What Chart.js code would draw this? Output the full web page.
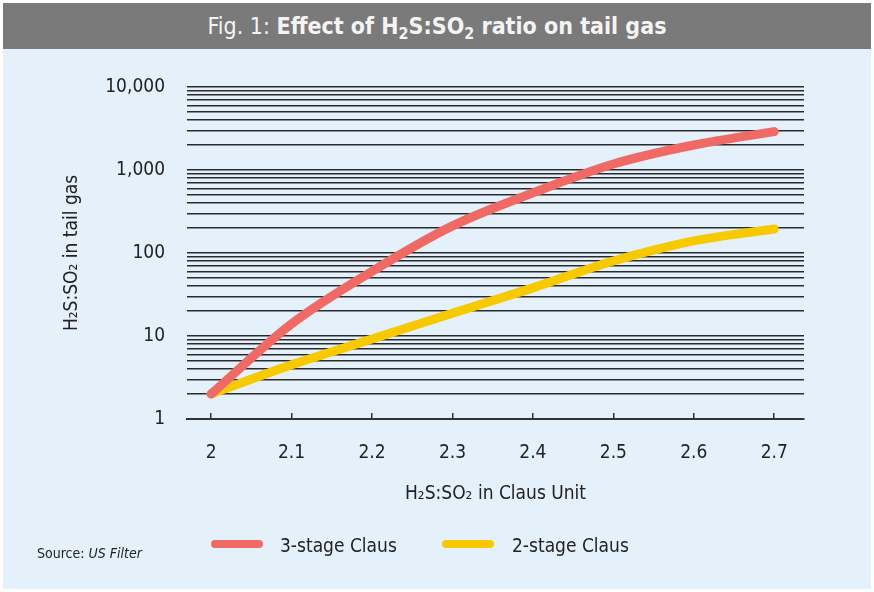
<!DOCTYPE html>
<html>
<head>
<meta charset="utf-8">
<script src="https://cdn.jsdelivr.net/npm/chart.js@4.4.1/dist/chart.umd.min.js"></script>
<style>
  body { margin: 0; background: #fff; font-family: 'DejaVu Sans Condensed', 'Liberation Sans', sans-serif; }
  #wrap { position: relative; width: 874px; height: 592px; }
  #panel { position: absolute; left: 3px; top: 3px; width: 868px; height: 586px; background: #e4f1fb; }
  #titlebar { position: absolute; left: 3px; top: 3px; width: 868px; height: 46px; background: #7a7a7a;
    color: #f4f4f4; font-size: 23px; line-height: 46px; text-align: center; }
  #titlebar b { font-weight: bold; }
  #titlebar sub { font-size: 16px; vertical-align: -5px; line-height: 0; }
  #chartbox { position: absolute; left: 0; top: 0; width: 874px; height: 592px; }
  .leg { position: absolute; top: 534px; font-size: 19px; color: #222; line-height: 22px; }
  .sw { position: absolute; top: 540px; width: 52px; height: 8px; border-radius: 4px; }
  #source { position: absolute; left: 37px; top: 545px; font-size: 14px; color: #222; }
</style>
</head>
<body>
<div id="wrap">
  <div id="panel"></div>
  <div id="titlebar">Fig. 1: <b>Effect of H<sub>2</sub>S:SO<sub>2</sub> ratio on tail gas</b></div>
  <div id="chartbox"><canvas id="chart" width="874" height="592"></canvas></div>
  <div class="sw" style="left:211px;background:#ef6a65"></div>
  <div class="leg" style="left:280px">3-stage Claus</div>
  <div class="sw" style="left:442px;background:#f6c900"></div>
  <div class="leg" style="left:512px">2-stage Claus</div>
  <div id="source">Source: <i>US Filter</i></div>
</div>
<script>
// H2S:SO2 ratio in Claus unit
const ratios = [2.0, 2.1, 2.2, 2.3, 2.4, 2.5, 2.6, 2.7];
// H2S:SO2 ratio in tail gas
const threeStage = [2, 14, 60, 212, 530, 1180, 2000, 2900];
const twoStage = [2, 4.5, 9.2, 18.8, 38, 80, 140, 195];
const xTicks = [2.0, 2.1, 2.2, 2.3, 2.4, 2.5, 2.6, 2.7];
const yTicks = [];
for (const dec of [1, 10, 100, 1000]) {
  for (let m = 1; m <= 9; m++) yTicks.push(m * dec);
}
yTicks.push(10000);
const yLabels = { 1: '1', 10: '10', 100: '100', 1000: '1,000', 10000: '10,000' };

const fontFam = "'DejaVu Sans Condensed', 'Liberation Sans', sans-serif";

new Chart(document.getElementById('chart'), {
  type: 'line',
  data: {
    datasets: [
      {
        label: '3-stage Claus',
        data: ratios.map((r, i) => ({ x: r, y: threeStage[i] })),
        borderColor: '#ef6a65',
        borderWidth: 9,
        borderCapStyle: 'round',
        cubicInterpolationMode: 'monotone',
        pointRadius: 0,
        clip: false
      },
      {
        label: '2-stage Claus',
        data: ratios.map((r, i) => ({ x: r, y: twoStage[i] })),
        borderColor: '#f6c900',
        borderWidth: 9,
        borderCapStyle: 'round',
        cubicInterpolationMode: 'monotone',
        pointRadius: 0,
        clip: false
      }
    ]
  },
  options: {
    responsive: false,
    animation: false,
    layout: { padding: { top: 87, right: 70, bottom: 73, left: 0 } },
    plugins: { legend: { display: false }, tooltip: { enabled: false } },
    scales: {
      x: {
        type: 'linear',
        min: 1.97,
        max: 2.737,
        afterBuildTicks: s => { s.ticks = xTicks.map(v => ({ value: v })); },
        afterFit: s => { s.height = 100; },
        border: { display: true, color: '#333', width: 2 },
        grid: { drawOnChartArea: false, drawTicks: true, tickLength: -6, color: '#333', lineWidth: 1.5 },
        ticks: {
          padding: 29,
          color: '#222',
          font: { family: fontFam, size: 19 },
          maxRotation: 0,
          callback: v => String(v)
        },
        title: {
          display: true,
          text: 'H₂S:SO₂ in Claus Unit',
          color: '#222',
          font: { family: fontFam, size: 19 },
          padding: { top: 0, bottom: 14 }
        }
      },
      y: {
        type: 'logarithmic',
        min: 1,
        max: 10000,
        z: 1,
        afterBuildTicks: s => { s.ticks = yTicks.map(v => ({ value: v })); },
        afterFit: s => { s.width = 187; },
        border: { display: false },
        grid: { drawTicks: false, color: 'rgba(20,20,20,0.9)', lineWidth: 1.5 },
        ticks: {
          padding: 22,
          color: '#222',
          autoSkip: false,
          font: { family: fontFam, size: 19 },
          callback: v => yLabels[v] || ''
        },
        title: {
          display: true,
          text: 'H₂S:SO₂ in tail gas',
          color: '#222',
          font: { family: fontFam, size: 19 },
          padding: { top: 61, bottom: 0 }
        }
      }
    }
  }
});
</script>
</body>
</html>
